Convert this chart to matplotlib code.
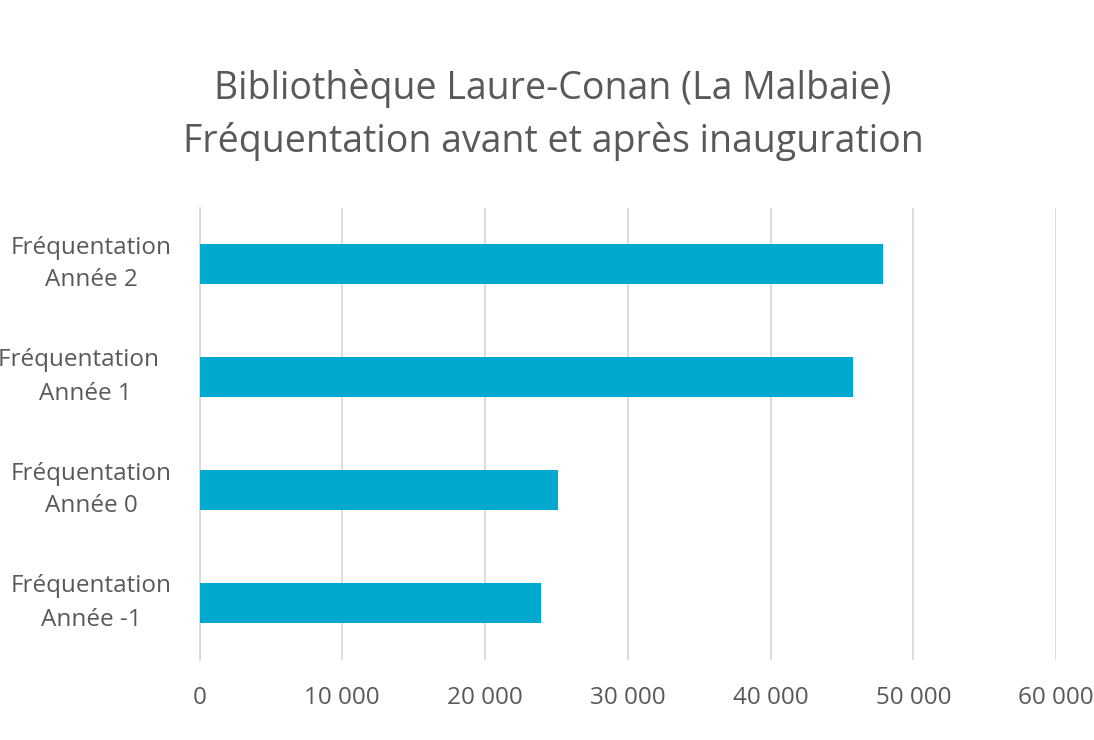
import matplotlib
matplotlib.use("Agg")
import matplotlib.pyplot as plt

# data
categories = ["Fréquentation\nAnnée -1", "Fréquentation\nAnnée 0",
              "Fréquentation  \nAnnée 1", "Fréquentation\nAnnée 2"]
values = [23900, 25100, 45800, 47900]
xticks = [0, 10000, 20000, 30000, 40000, 50000, 60000]

title = "Bibliothèque Laure-Conan (La Malbaie)\nFréquentation avant et après inauguration"

plt.rcParams['font.family'] = ['Open Sans', 'DejaVu Sans']
grey = '#595959'
gridc = '#d9d9d9'

fig = plt.figure(figsize=(10.94, 7.4), dpi=100)
ax = fig.add_axes([199.5/1094, 1 - 659.5/740, (1056 - 199.5)/1094, 452/740])

ypos = range(len(categories))
ax.barh(ypos, values, height=0.354, color='#00A9CD', zorder=3)

ax.set_xlim(0, 60000)
ax.set_ylim(-0.5, len(categories) - 0.5)
ax.set_xticks(xticks)
ax.set_xticklabels([f"{v:,}".replace(",", " ") for v in xticks])
ax.set_yticks(list(ypos))
ax.set_yticklabels(categories, multialignment='center', linespacing=1.5, va='center')

ax.grid(axis='x', color=gridc, linewidth=1.3, zorder=0)
for s in ['top', 'right', 'bottom']:
    ax.spines[s].set_visible(False)
ax.spines['left'].set_color(gridc)
ax.spines['left'].set_linewidth(1.3)
ax.tick_params(axis='both', length=0, labelsize=17.5, labelcolor=grey)
ax.tick_params(axis='x', pad=19)
ax.tick_params(axis='y', pad=20)

fig.text(553/1094, 1 - 115/740, title, ha='center', va='center',
         fontsize=27, color=grey, linespacing=1.45)

fig.savefig("out.png", dpi=100)
